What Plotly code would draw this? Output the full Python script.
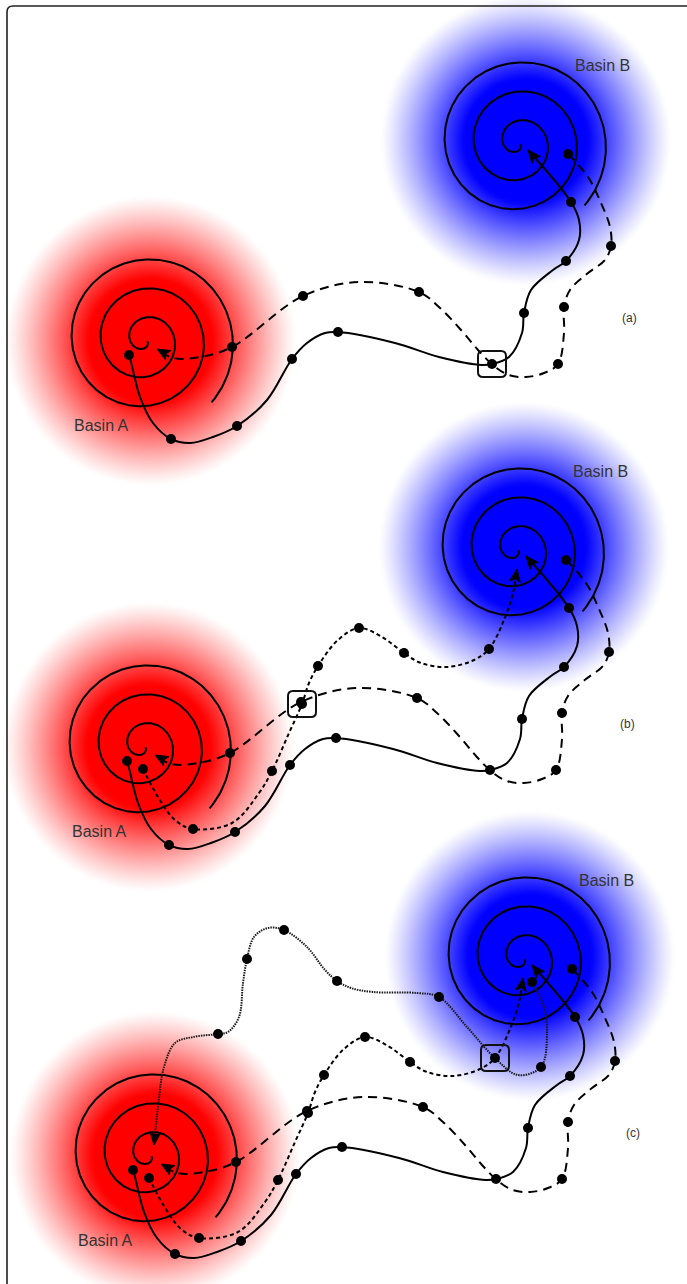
import numpy as np
import plotly.graph_objects as go

W, H = 687, 1284

# ---- layout of the three stacked panels (offsets of the local frame) ----
panel_labels = ["(a)", "(b)", "(c)"]
panel_dx = [0, -2, 4]
panel_dy = [0, 406, 815]

# ---- basins (local frame) ----
basin_a_spiral = (145, 340)
basin_b_spiral = (518, 143)
basin_a_glow = (150, 340)
basin_b_glow = (525, 140)

# ---- trajectories (local frame) ----
# solid: Basin A -> Basin B
solid_x = [129, 131, 140, 153, 171, 190, 213, 237, 267, 292, 307, 325, 338, 395, 439, 482, 492,
           509, 522, 524, 531, 553, 566, 579, 579, 571, 528]
solid_y = [355, 362, 397, 423, 439, 443, 437, 426, 400, 359, 343, 333, 332, 343, 357, 365, 364,
           357, 333, 313, 290, 270, 261, 240, 220, 202, 150]
solid_dots_x = [129, 171, 237, 292, 338, 492, 524, 566, 571]
solid_dots_y = [355, 439, 426, 359, 332, 364, 313, 261, 202]

# dashed: Basin B -> Basin A
dashed_x = [568, 588, 601, 610, 611, 605, 588, 570, 564, 564, 558, 544, 526, 509, 494, 478, 461,
            439, 419, 360, 303, 232, 200, 173, 157]
dashed_y = [154, 177, 203, 227, 246, 260, 273, 290, 307, 333, 364, 373, 377, 375, 366, 350, 330,
            307, 292, 282, 296, 347, 357, 358, 349]
dashed_dots_x = [568, 611, 564, 558, 419, 303, 232]
dashed_dots_y = [154, 246, 307, 364, 292, 296, 347]

# dotted: Basin A -> Basin B (panels b, c)
dotted_x = [145, 160, 177, 195, 234, 261, 274, 291, 304, 311, 320, 340, 361, 384, 406, 423, 449,
            476, 491, 506, 515, 519]
dotted_y = [363, 391, 414, 423, 417, 387, 365, 327, 298, 277, 260, 234, 222, 231, 247, 257, 261,
            254, 243, 214, 187, 163]
dotted_dots_x = [145, 195, 274, 304, 320, 361, 406, 491]
dotted_dots_y = [363, 423, 365, 298, 260, 222, 247, 243]

# fine dotted: Basin B -> Basin A (panel c)
fine_x = [528, 540, 543, 537, 514, 490, 463, 435, 413, 369, 347, 333, 321, 303, 280, 264, 250,
          243, 239, 235, 224, 214, 189, 171, 160, 154, 150]
fine_y = [167, 192, 218, 252, 260, 242, 212, 182, 178, 177, 173, 166, 155, 132, 115, 113, 122,
          144, 168, 202, 217, 219, 222, 228, 252, 292, 330]
fine_dots_x = [528, 537, 435, 333, 280, 243, 214]
fine_dots_y = [167, 252, 182, 166, 115, 144, 219]

# highlighted state in each panel
box_x = [492, 304, 491]
box_y = [364, 298, 243]

# which trajectories appear in each panel
panel_paths = [["solid", "dashed"],
               ["solid", "dashed", "dotted"],
               ["solid", "dashed", "dotted", "fine"]]

styles = {
    "solid": dict(x=solid_x, y=solid_y, dx=solid_dots_x, dy=solid_dots_y,
                  color="black", width=2, dash="solid"),
    "dashed": dict(x=dashed_x, y=dashed_y, dx=dashed_dots_x, dy=dashed_dots_y,
                   color="black", width=2, dash="9px,6px"),
    "dotted": dict(x=dotted_x, y=dotted_y, dx=dotted_dots_x, dy=dotted_dots_y,
                   color="black", width=2, dash="4px,3px"),
    "fine": dict(x=fine_x, y=fine_y, dx=fine_dots_x, dy=fine_dots_y,
                 color="#1a1a1a", width=2, dash="1.5px,1px"),
}

fig = go.Figure()


def glow(cx, cy, rgb):
    g = np.arange(-150, 151, 3)
    gx, gy = np.meshgrid(g, g)
    r = np.hypot(gx, gy)
    a = np.clip((145 - r) / (145 - 62), 0, 1) ** 1.15
    fig.add_trace(go.Heatmap(
        x=cx + g, y=cy + g, z=a, zmin=0, zmax=1, zsmooth="best", showscale=False,
        colorscale=[[0, f"rgba({rgb},0)"], [1, f"rgba({rgb},1)"]], hoverinfo="skip"))


def spiral(cx, cy):
    k = 29 / (2 * np.pi)
    th0 = np.pi / 2 - 37 / k
    th = np.linspace(th0 + 0.6, 13.32, 900)
    r = k * (th - th0)
    fig.add_trace(go.Scatter(x=cx + r * np.cos(th), y=cy + r * np.sin(th), mode="lines",
                             line=dict(color="black", width=2), hoverinfo="skip"))


def arrowhead(xs, ys, color):
    tip = np.array([xs[-1], ys[-1]], float)
    prev = np.array([xs[-2], ys[-2]], float)
    u = (tip - prev) / np.linalg.norm(tip - prev)
    n = np.array([-u[1], u[0]])
    base = tip - 13 * u
    notch = tip - 10 * u
    p = [tip, base + 5.5 * n, notch, base - 5.5 * n, tip]
    fig.add_trace(go.Scatter(x=[q[0] for q in p], y=[q[1] for q in p], mode="lines",
                             fill="toself", fillcolor=color, line=dict(color=color, width=1),
                             hoverinfo="skip"))


for i in range(3):
    ox, oy = panel_dx[i], panel_dy[i]
    glow(basin_a_glow[0] + ox, basin_a_glow[1] + oy, "255,0,0")
    glow(basin_b_glow[0] + ox, basin_b_glow[1] + oy, "0,0,255")

for i in range(3):
    ox, oy = panel_dx[i], panel_dy[i]
    spiral(basin_a_spiral[0] + ox, basin_a_spiral[1] + oy)
    spiral(basin_b_spiral[0] + ox, basin_b_spiral[1] + oy)

for i in range(3):
    ox, oy = panel_dx[i], panel_dy[i]
    for name in panel_paths[i]:
        s = styles[name]
        xs = [v + ox for v in s["x"]]
        ys = [v + oy for v in s["y"]]
        fig.add_trace(go.Scatter(x=xs, y=ys, mode="lines", line_shape="spline",
                                 line=dict(color=s["color"], width=s["width"], dash=s["dash"],
                                           smoothing=1.0),
                                 hoverinfo="skip"))
        arrowhead(xs, ys, "black")
    for name in panel_paths[i]:
        s = styles[name]
        fig.add_trace(go.Scatter(x=[v + ox for v in s["dx"]], y=[v + oy for v in s["dy"]],
                                 mode="markers", marker=dict(color="black", size=10),
                                 hoverinfo="skip"))

shapes = []
# frame with a rounded top-left corner
shapes.append(dict(type="path", xref="x", yref="y", layer="above",
                   path=f"M 7,{H + 5} L 7,12 Q 7,6 13,6 L {W + 5},6",
                   line=dict(color="#222222", width=1.6)))


def rounded_box(cx, cy, hw=14, hh=13, rr=5):
    x0, x1, y0, y1 = cx - hw, cx + hw, cy - hh, cy + hh
    return (f"M {x0 + rr},{y0} L {x1 - rr},{y0} Q {x1},{y0} {x1},{y0 + rr} "
            f"L {x1},{y1 - rr} Q {x1},{y1} {x1 - rr},{y1} L {x0 + rr},{y1} "
            f"Q {x0},{y1} {x0},{y1 - rr} L {x0},{y0 + rr} Q {x0},{y0} {x0 + rr},{y0} Z")


for i in range(3):
    shapes.append(dict(type="path", xref="x", yref="y", layer="above",
                       path=rounded_box(box_x[i] + panel_dx[i], box_y[i] + panel_dy[i]),
                       line=dict(color="#111111", width=2), fillcolor="rgba(0,0,0,0)"))

annotations = []
for i in range(3):
    ox, oy = panel_dx[i], panel_dy[i]
    annotations += [
        dict(x=101 + ox, y=425 + oy, text="Basin A", showarrow=False,
             font=dict(size=16, color="#333333")),
        dict(x=602 + ox, y=65 + oy, text="Basin B", showarrow=False,
             font=dict(size=16, color="#333333")),
        dict(x=629 + ox, y=318 + oy, text=panel_labels[i], showarrow=False,
             font=dict(size=12, color="#333333")),
    ]

fig.update_layout(
    width=W, height=H, margin=dict(l=0, r=0, t=0, b=0),
    paper_bgcolor="white", plot_bgcolor="white", showlegend=False,
    font=dict(family="Liberation Sans, Arial, sans-serif"),
    xaxis=dict(range=[0, W], visible=False, showgrid=False, zeroline=False, fixedrange=True),
    yaxis=dict(range=[H, 0], visible=False, showgrid=False, zeroline=False, fixedrange=True),
    shapes=shapes, annotations=annotations,
)

fig.write_html("out.html")
